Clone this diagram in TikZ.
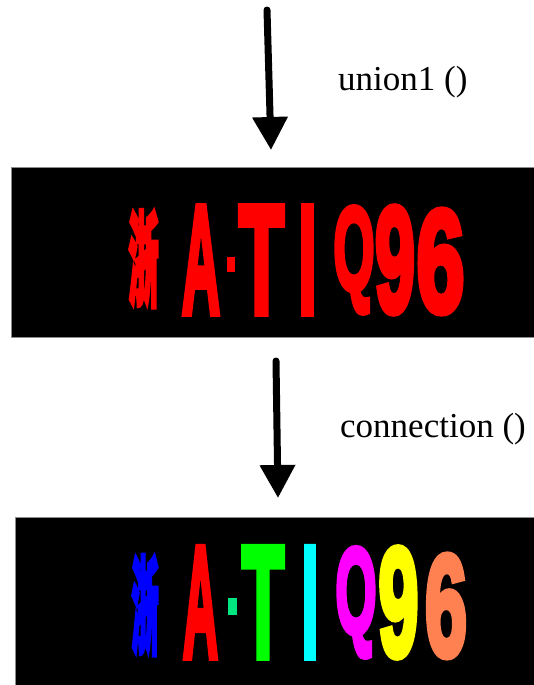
\documentclass[tikz,border=0pt]{standalone}
\usepackage{fontspec}
\usepackage{graphicx}
\setmainfont{Liberation Serif}
\newfontfamily\platefont[FakeBold=5]{Liberation Sans Bold}
\newfontfamily\cjkfont[FakeBold=5]{Noto Sans CJK SC}
\usetikzlibrary{arrows.meta}
\definecolor{pblue}{RGB}{0,0,255}
\definecolor{pred}{RGB}{255,0,0}
\definecolor{pgreen}{RGB}{0,255,0}
\definecolor{pdot}{RGB}{0,230,128}
\definecolor{pcyan}{RGB}{0,255,255}
\definecolor{pmag}{RGB}{255,0,255}
\definecolor{pyel}{RGB}{255,255,0}
\definecolor{porange}{RGB}{255,128,80}
% \pch{colour}{box width}{total height}{font}{char}
\newcommand{\pch}[5]{\resizebox*{#2pt}{#3pt}{\textcolor{#1}{#4#5}}}
\begin{document}
\begin{tikzpicture}[x=1pt,y=1pt,
  platebox/.style={fill=black,draw=black!45,line width=0.8pt,inner sep=0pt,anchor=north west},
  ch/.style={inner sep=0pt,outer sep=0pt,anchor=south},
  lbl/.style={inner sep=0pt,anchor=base west,font=\fontsize{35}{40}\selectfont},
  bigarrow/.style={line width=7pt,line cap=round,-{Triangle[width=34pt,length=33pt]}}]
\useasboundingbox (0,0) rectangle (533,-685);

% plates
\node[platebox,minimum width=524pt,minimum height=170pt] (plateA) at (11,-167) {};
\node[platebox,minimum width=520pt,minimum height=170pt] (plateB) at (15,-517) {};

% arrows
\coordinate (a1s) at (267,-10);
\coordinate (a1e) at (271,-150);
\coordinate (a2s) at (276,-361);
\coordinate (a2e) at (278,-498);
\draw[bigarrow] (a1s) -- (a1e);
\draw[bigarrow] (a2s) -- (a2e);

% labels
\node[lbl] (l1) at (338,-90) {union1 ()};
\node[lbl] (l2) at (340,-437) {connection ()};

% plate 1 (all red)
\node[ch] (a1) at (143.5,-307) {\pch{pred}{30}{97}{\cjkfont\bfseries}{浙}};
\node[ch] (a2) at (201,-313) {\pch{pred}{38}{106}{\platefont}{A}};
\node[fill=pred,inner sep=0pt,minimum width=8pt,minimum height=15pt] (a3) at (231,-264.5) {};
\node[ch] (a4) at (261.5,-313) {\pch{pred}{45}{106}{\platefont}{T}};
\node[ch] (a5) at (307.5,-313) {\pch{pred}{18}{106}{\platefont}{I}};
\node[ch] (a6) at (354,-313) {\pch{pred}{41}{106}{\platefont}{Q}};
\node[ch] (a7) at (395,-313) {\pch{pred}{40}{106}{\platefont}{9}};
\node[ch] (a8) at (440.5,-313) {\pch{pred}{48}{103}{\platefont}{6}};

% plate 2 (coloured)
\node[ch] (b1) at (145,-655) {\pch{pblue}{27}{100}{\cjkfont\bfseries}{浙}};
\node[ch] (b2) at (200.5,-657) {\pch{pred}{35}{109}{\platefont}{A}};
\node[fill=pdot,inner sep=0pt,minimum width=9pt,minimum height=17pt] (b3) at (232,-606.5) {};
\node[ch] (b4) at (263,-657) {\pch{pgreen}{42}{109}{\platefont}{T}};
\node[ch] (b5) at (310,-657) {\pch{pcyan}{17}{109}{\platefont}{I}};
\node[ch] (b6) at (356,-657) {\pch{pmag}{41}{109}{\platefont}{Q}};
\node[ch] (b7) at (398.5,-657) {\pch{pyel}{40}{109}{\platefont}{9}};
\node[ch] (b8) at (446,-657) {\pch{porange}{42}{102}{\platefont}{6}};
\end{tikzpicture}
\end{document}
